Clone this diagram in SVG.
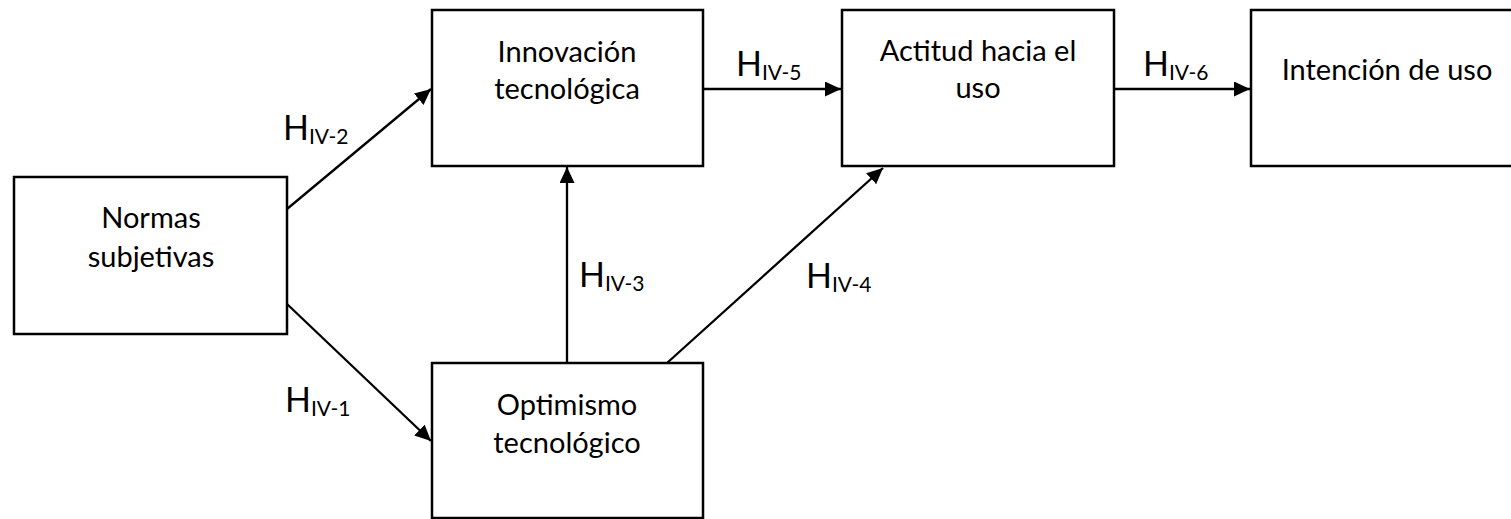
<svg xmlns="http://www.w3.org/2000/svg" width="1511" height="519" viewBox="0 0 1511 519">
  <style>
    .box { fill: #ffffff; stroke: #000000; stroke-width: 2.5; }
    .lbl { font-family: Lato, "Liberation Sans", sans-serif; font-size: 29px; fill: #000000; text-anchor: middle; }
    .h { font-family: Lato, "Liberation Sans", sans-serif; font-size: 34px; fill: #000000; }
    .sub { font-size: 21px; }
    .edge { stroke: #000000; stroke-width: 2.3; fill: none; marker-end: url(#arr); }
  </style>
  <defs>
    <marker id="arr" markerUnits="userSpaceOnUse" markerWidth="17" markerHeight="16" refX="16" refY="7.5" orient="auto">
      <path d="M0,0 L16,7.5 L0,15 Z" fill="#000000"/>
    </marker>
  </defs>
  <rect width="1511" height="519" fill="#ffffff"/>

  <g id="connectors">
    <line class="edge" x1="287" y1="209" x2="431" y2="89"/>
    <line class="edge" x1="287" y1="304" x2="431" y2="441"/>
    <line class="edge" x1="567" y1="363" x2="567" y2="167"/>
    <line class="edge" x1="667" y1="363" x2="883" y2="168"/>
    <line class="edge" x1="703" y1="89" x2="841" y2="89"/>
    <line class="edge" x1="1114" y1="89" x2="1250" y2="89"/>
  </g>

  <g id="node-normas">
    <rect class="box" x="14" y="177" width="273" height="157"/>
    <text class="lbl" x="151" y="228">Normas</text>
    <text class="lbl" x="151" y="267">subjetivas</text>
  </g>
  <g id="node-innovacion">
    <rect class="box" x="432" y="10" width="271" height="156"/>
    <text class="lbl" x="567" y="62">Innovación</text>
    <text class="lbl" x="567" y="99">tecnológica</text>
  </g>
  <g id="node-optimismo">
    <rect class="box" x="432" y="363" width="271" height="155"/>
    <text class="lbl" x="567" y="415">Optimismo</text>
    <text class="lbl" x="567" y="453">tecnológico</text>
  </g>
  <g id="node-actitud">
    <rect class="box" x="842" y="10" width="272" height="156"/>
    <text class="lbl" x="978" y="61">Actitud hacia el</text>
    <text class="lbl" x="978" y="98">uso</text>
  </g>
  <g id="node-intencion">
    <rect class="box" x="1251" y="10" width="273" height="156"/>
    <text class="lbl" x="1387" y="80">Intención de uso</text>
  </g>

  <g id="labels">
    <text class="h" x="283" y="140">H<tspan class="sub" dy="4">IV-2</tspan></text>
    <text class="h" x="285" y="412">H<tspan class="sub" dy="4">IV-1</tspan></text>
    <text class="h" x="579" y="287">H<tspan class="sub" dy="4">IV-3</tspan></text>
    <text class="h" x="806" y="288">H<tspan class="sub" dy="4">IV-4</tspan></text>
    <text class="h" x="736" y="76">H<tspan class="sub" dy="4">IV-5</tspan></text>
    <text class="h" x="1143" y="76">H<tspan class="sub" dy="4">IV-6</tspan></text>
  </g>
</svg>
